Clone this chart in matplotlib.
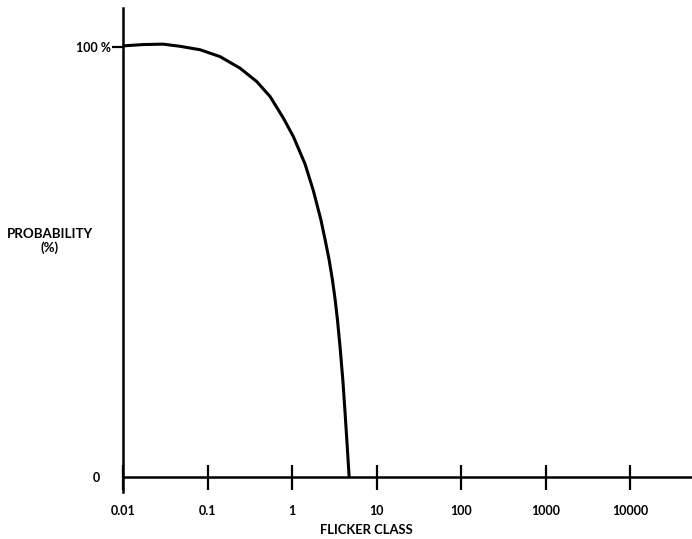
import numpy as np
import matplotlib
matplotlib.use("Agg")
import matplotlib.pyplot as plt

# curve: flicker class vs probability (%)
flicker = [0.0101, 0.0173, 0.0297, 0.0473, 0.0815, 0.1406, 0.2425, 0.382,
           0.550, 0.789, 1.036, 1.425, 1.787, 2.19, 2.46, 2.74, 3.00,
           3.23, 3.44, 3.70, 3.98, 4.21, 4.44, 4.73]
prob = [100.2, 100.5, 100.6, 100.1, 99.3, 97.7, 95.0, 91.9,
        88.4, 83.4, 79.1, 72.7, 66.5, 59.8, 55.1, 50.5, 45.8,
        41.2, 36.5, 30.0, 22.6, 15.6, 8.6, 0.0]

x_ticks = [0.01, 0.1, 1, 10, 100, 1000, 10000]
x_labels = ["0.01", "0.1", "1", "10", "100", "1000", "10000"]
y_ticks = [0, 100]
y_labels = ["0", "100 %"]

plt.rcParams['font.family'] = ['Lato', 'DejaVu Sans']
plt.rcParams['font.weight'] = 'bold'

fig = plt.figure(figsize=(6.92, 5.39), dpi=100)
ax = fig.add_axes([123/692, 47/539, 569/692, 484/539])

ax.plot(flicker, prob, color='black', lw=2.2, solid_joinstyle='round',
        solid_capstyle='butt')

ax.set_xscale('log')
ax.set_xlim(0.01, 10**4.73)
ax.set_ylim(-3.5, 109)

ax.spines['top'].set_visible(False)
ax.spines['right'].set_visible(False)
ax.spines['bottom'].set_position(('data', 0))
for s in ['left', 'bottom']:
    ax.spines[s].set_linewidth(1.8)

ax.set_xticks(x_ticks)
ax.set_xticklabels(x_labels)
ax.xaxis.set_minor_locator(matplotlib.ticker.NullLocator())
ax.tick_params(axis='x', direction='inout', length=18, width=1.6, pad=11,
               labelsize=9)

ax.set_yticks(y_ticks)
ax.set_yticklabels(y_labels)
ax.tick_params(axis='y', direction='out', length=8, width=1.6, pad=0.5,
               labelsize=9)
ax.yaxis.get_major_ticks()[0].tick1line.set_visible(False)
ax.yaxis.get_major_ticks()[0].set_pad(8.5)

ax.set_xlabel("FLICKER CLASS", fontsize=9.4, fontweight='bold')
ax.xaxis.set_label_coords(0.427, -0.066)

fig.text(50/692, 1 - 241/539, "PROBABILITY\n(%)", ha='center', va='center',
         fontsize=9.6, fontweight='bold', linespacing=1.05)

fig.savefig("out.png", dpi=100)
